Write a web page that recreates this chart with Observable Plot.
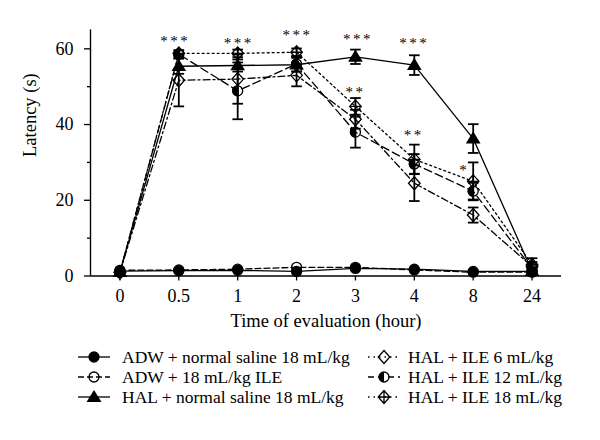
<!DOCTYPE html>
<html><head><meta charset="utf-8">
<script src="https://cdn.jsdelivr.net/npm/d3@7"></script>
<script src="https://cdn.jsdelivr.net/npm/@observablehq/plot@0.6"></script>
<style>
body{margin:0;background:#fff;}
#wrap{position:relative;width:600px;height:440px;font-family:"Liberation Serif","Times New Roman",Tinos,"DejaVu Serif",serif;background:#fff;}
#wrap svg.chart{position:absolute;left:0;top:0;}
#wrap svg text{font-family:"Liberation Serif","Times New Roman",Tinos,"DejaVu Serif",serif;}
.lg{position:absolute;font-size:17.5px;line-height:20px;height:20px;white-space:nowrap;color:#000;}
.mk{position:absolute;overflow:visible;}
</style></head><body><div id="wrap"></div>
<script>
// ---- data ----
const hours = ["0","0.5","1","2","3","4","8","24"];
const seriesNames = ["ADW + normal saline 18 mL/kg","ADW + 18 mL/kg ILE","HAL + normal saline 18 mL/kg","HAL + ILE 6 mL/kg","HAL + ILE 12 mL/kg","HAL + ILE 18 mL/kg"];
const adwSaline   = [1.3, 1.4, 1.5, 1.2, 2.0, 1.8, 1.2, 1.2];
const adwSalineSd = [0.2, 0.2, 0.2, 0.2, 0.3, 0.3, 0.2, 0.2];
const adwIle      = [1.5, 1.6, 1.8, 2.3, 2.3, 1.6, 1.0, 1.0];
const adwIleSd    = [0.2, 0.2, 0.2, 0.3, 0.3, 0.2, 0.2, 0.2];
const halSaline   = [1.0, 55.4, 55.6, 55.8, 57.9, 55.7, 36.3, 1.3];
const halSalineSd = [0.3, 2.0, 1.6, 1.8, 1.9, 2.6, 3.8, 1.0];
const ile6        = [1.0, 51.7, 52.0, 53.0, 41.4, 24.5, 16.1, 2.5];
const ile6Sd      = [0.3, 6.9, 6.5, 2.9, 2.5, 4.7, 2.0, 1.2];
const ile12       = [1.0, 58.6, 48.9, 56.0, 38.0, 29.6, 22.4, 2.0];
const ile12Sd     = [0.3, 1.0, 7.5, 2.0, 4.1, 2.6, 2.2, 1.0];
const ile18       = [1.0, 58.8, 58.8, 59.1, 44.8, 30.8, 25.0, 3.0];
const ile18Sd     = [0.3, 0.8, 1.0, 1.0, 2.2, 3.9, 5.0, 1.7];
const starHours   = ["0.5","1","2","3","4","3","4","8"];
const starLabels  = ["***","***","***","***","***","**","**","*"];
const starLatency = [62.0, 61.6, 63.6, 62.6, 61.6, 48.5, 37.2, 28.0];
const yTicks = [0, 20, 40, 60];
const yMinor = [10, 30, 50];

// ---- styling ----
const FONT = '"Liberation Serif","Times New Roman",Tinos,"DejaVu Serif",serif';
const starNudge = [-4.5, 0, 0, 1.5, -1, -1, -1.5, -10];
const sym = f => ({draw(c){ f(c); }});
const capSym = sym(c => { c.moveTo(-5.3, 0); c.lineTo(5.3, 0); });
const triSym = sym(c => { c.moveTo(0, -6); c.lineTo(6.2, 4.2); c.lineTo(-6.2, 4.2); c.closePath(); });
const diamondSym = sym(c => { c.moveTo(0, -6.5); c.lineTo(5.8, 0); c.lineTo(0, 6.5); c.lineTo(-5.8, 0); c.closePath(); });
const diamondCrossSym = sym(c => { c.moveTo(0, -6.5); c.lineTo(5.8, 0); c.lineTo(0, 6.5); c.lineTo(-5.8, 0); c.closePath();
  c.moveTo(0, -6.5); c.lineTo(0, 6.5); c.moveTo(-5.8, 0); c.lineTo(5.8, 0); });
const halfSym = sym(c => { c.moveTo(0, -5); c.arc(0, 0, 5, -Math.PI / 2, Math.PI / 2, true); c.closePath(); });
const circleSym = sym(c => { c.moveTo(5, 0); c.arc(0, 0, 5, 0, 2 * Math.PI); c.closePath(); });

const groups = [
  {v: adwIle, e: adwIleSd, dash: "6,3", sym: [[circleSym, "none"]], err: false},
  {v: adwSaline, e: adwSalineSd, dash: null, sym: [[circleSym, "black"]], err: false},
  {v: halSaline, e: halSalineSd, dash: null, sym: [[triSym, "black"]], err: true},
  {v: ile6, e: ile6Sd, dash: "7,3,2,3", sym: [[diamondSym, "none"]], err: true},
  {v: ile12, e: ile12Sd, dash: "8,4", sym: [[circleSym, "none"], [halfSym, "black"]], err: true},
  {v: ile18, e: ile18Sd, dash: "2,3", sym: [[diamondCrossSym, "none"]], err: true}
];
groups.forEach(g => g.rows = g.v.map((v, i) => ({i, v, e: g.e[i]})));

const marks = [
  Plot.ruleY([0], {stroke: "black", strokeWidth: 1.4}),
  Plot.ruleX([-0.5], {stroke: "black", strokeWidth: 1.4}),
  Plot.axisY({ticks: yTicks, tickSize: 6, tickPadding: 11, fontSize: 18, label: null, strokeWidth: 1.3}),
  Plot.axisY({ticks: yMinor, tickSize: 3, tickFormat: () => "", label: null, strokeWidth: 1.3}),
  Plot.axisX({ticks: d3.range(hours.length), tickFormat: i => hours[i], tickSize: 5, tickPadding: 8, fontSize: 18, label: null, strokeWidth: 1.3})
];
for (const g of groups) {
  marks.push(Plot.line(g.rows, {x: "i", y: "v", stroke: "black", strokeWidth: 1.3, strokeDasharray: g.dash}));
}
for (const g of groups) {
  if (!g.err) continue;
  marks.push(Plot.ruleX(g.rows, {x: "i", y1: d => d.v - d.e, y2: d => d.v + d.e, stroke: "black", strokeWidth: 1.8}));
  marks.push(Plot.dot(g.rows, {x: "i", y: d => d.v + d.e, symbol: capSym, stroke: "black", strokeWidth: 1.8, fill: "none"}));
  marks.push(Plot.dot(g.rows, {x: "i", y: d => d.v - d.e, symbol: capSym, stroke: "black", strokeWidth: 1.8, fill: "none"}));
}
for (const g of groups) {
  for (const [s, f] of g.sym) {
    marks.push(Plot.dot(g.rows, {x: "i", y: "v", symbol: s, fill: f, stroke: "black", strokeWidth: 1.3}));
  }
}
const stars = starLabels.map((t, k) => ({t, i: hours.indexOf(starHours[k]), v: starLatency[k]}));
marks.push(Plot.text(stars, {x: "i", y: "v", text: "t", fontSize: 15, fill: "black"}));
marks.push(Plot.text(["Time of evaluation (hour)"], {frameAnchor: "bottom", dy: 51, fontSize: 18.5, fill: "black"}));
marks.push(Plot.text(["Latency (s)"], {frameAnchor: "left", rotate: -90, dx: -60, dy: 4, fontSize: 18.5, fill: "black"}));

const chart = Plot.plot({
  width: 600, height: 340,
  marginLeft: 90, marginRight: 39, marginTop: 29.4, marginBottom: 64.5,
  x: {type: "linear", domain: [-0.5, hours.length - 0.5]},
  y: {domain: [0, 65]},
  style: {fontFamily: FONT, fontSize: "18px", background: "white", color: "black", overflow: "visible"},
  marks
});
chart.classList.add("chart");
const starTexts = Array.from(chart.querySelectorAll("text")).filter(t => /^\*+$/.test(t.textContent));
starTexts.forEach((t, k) => { t.setAttribute("dx", starNudge[k] + 1); t.style.letterSpacing = "2.5px"; });
const wrap = document.getElementById("wrap");
wrap.appendChild(chart);

// ---- legend ----
const legendSym = {
  circleFill: '<circle cx="0" cy="0" r="5" fill="black" stroke="black" stroke-width="1.3"/>',
  circleOpen: '<circle cx="0" cy="0" r="5" fill="none" stroke="black" stroke-width="1.3"/>',
  tri: '<path d="M0,-7L7.5,5L-7.5,5Z" fill="black"/>',
  diamond: '<path d="M0,-6.5L5.8,0L0,6.5L-5.8,0Z" fill="none" stroke="black" stroke-width="1.3"/>',
  half: '<circle cx="0" cy="0" r="5" fill="none" stroke="black" stroke-width="1.3"/><path d="M0,-5A5,5 0 0 0 0,5Z" fill="black"/>',
  dcross: '<path d="M0,-6.5L5.8,0L0,6.5L-5.8,0ZM0,-6.5L0,6.5M-5.8,0L5.8,0" fill="none" stroke="black" stroke-width="1.3"/>'
};
const legendItems = [
  {k: 0, col: 0, row: 0, dash: null, s: legendSym.circleFill},
  {k: 1, col: 0, row: 1, dash: "6,3", s: legendSym.circleOpen},
  {k: 2, col: 0, row: 2, dash: null, s: legendSym.tri},
  {k: 3, col: 1, row: 0, dash: "1.5,4,1.5,4", s: legendSym.diamond},
  {k: 4, col: 1, row: 1, dash: "6,4", s: legendSym.half},
  {k: 5, col: 1, row: 2, dash: "1.5,4", s: legendSym.dcross}
];
const rowY = [357, 377, 397];
const colMk = [94, 384];
const colTx = [122, 408];
for (const it of legendItems) {
  const cy = rowY[it.row], cx = colMk[it.col];
  const svg = `<svg class="mk" width="36" height="18" style="left:${cx - 18}px;top:${cy - 9}px" viewBox="-18 -9 36 18">
    <line x1="-16" x2="16" y1="0" y2="0" stroke="black" stroke-width="1.3" ${it.dash ? `stroke-dasharray="${it.dash}"` : ""}/>${it.s}</svg>`;
  wrap.insertAdjacentHTML("beforeend", svg);
  const d = document.createElement("div");
  d.className = "lg";
  d.style.left = colTx[it.col] + "px";
  d.style.top = (cy - 10) + "px";
  d.textContent = seriesNames[it.k];
  wrap.appendChild(d);
}
</script></body></html>
